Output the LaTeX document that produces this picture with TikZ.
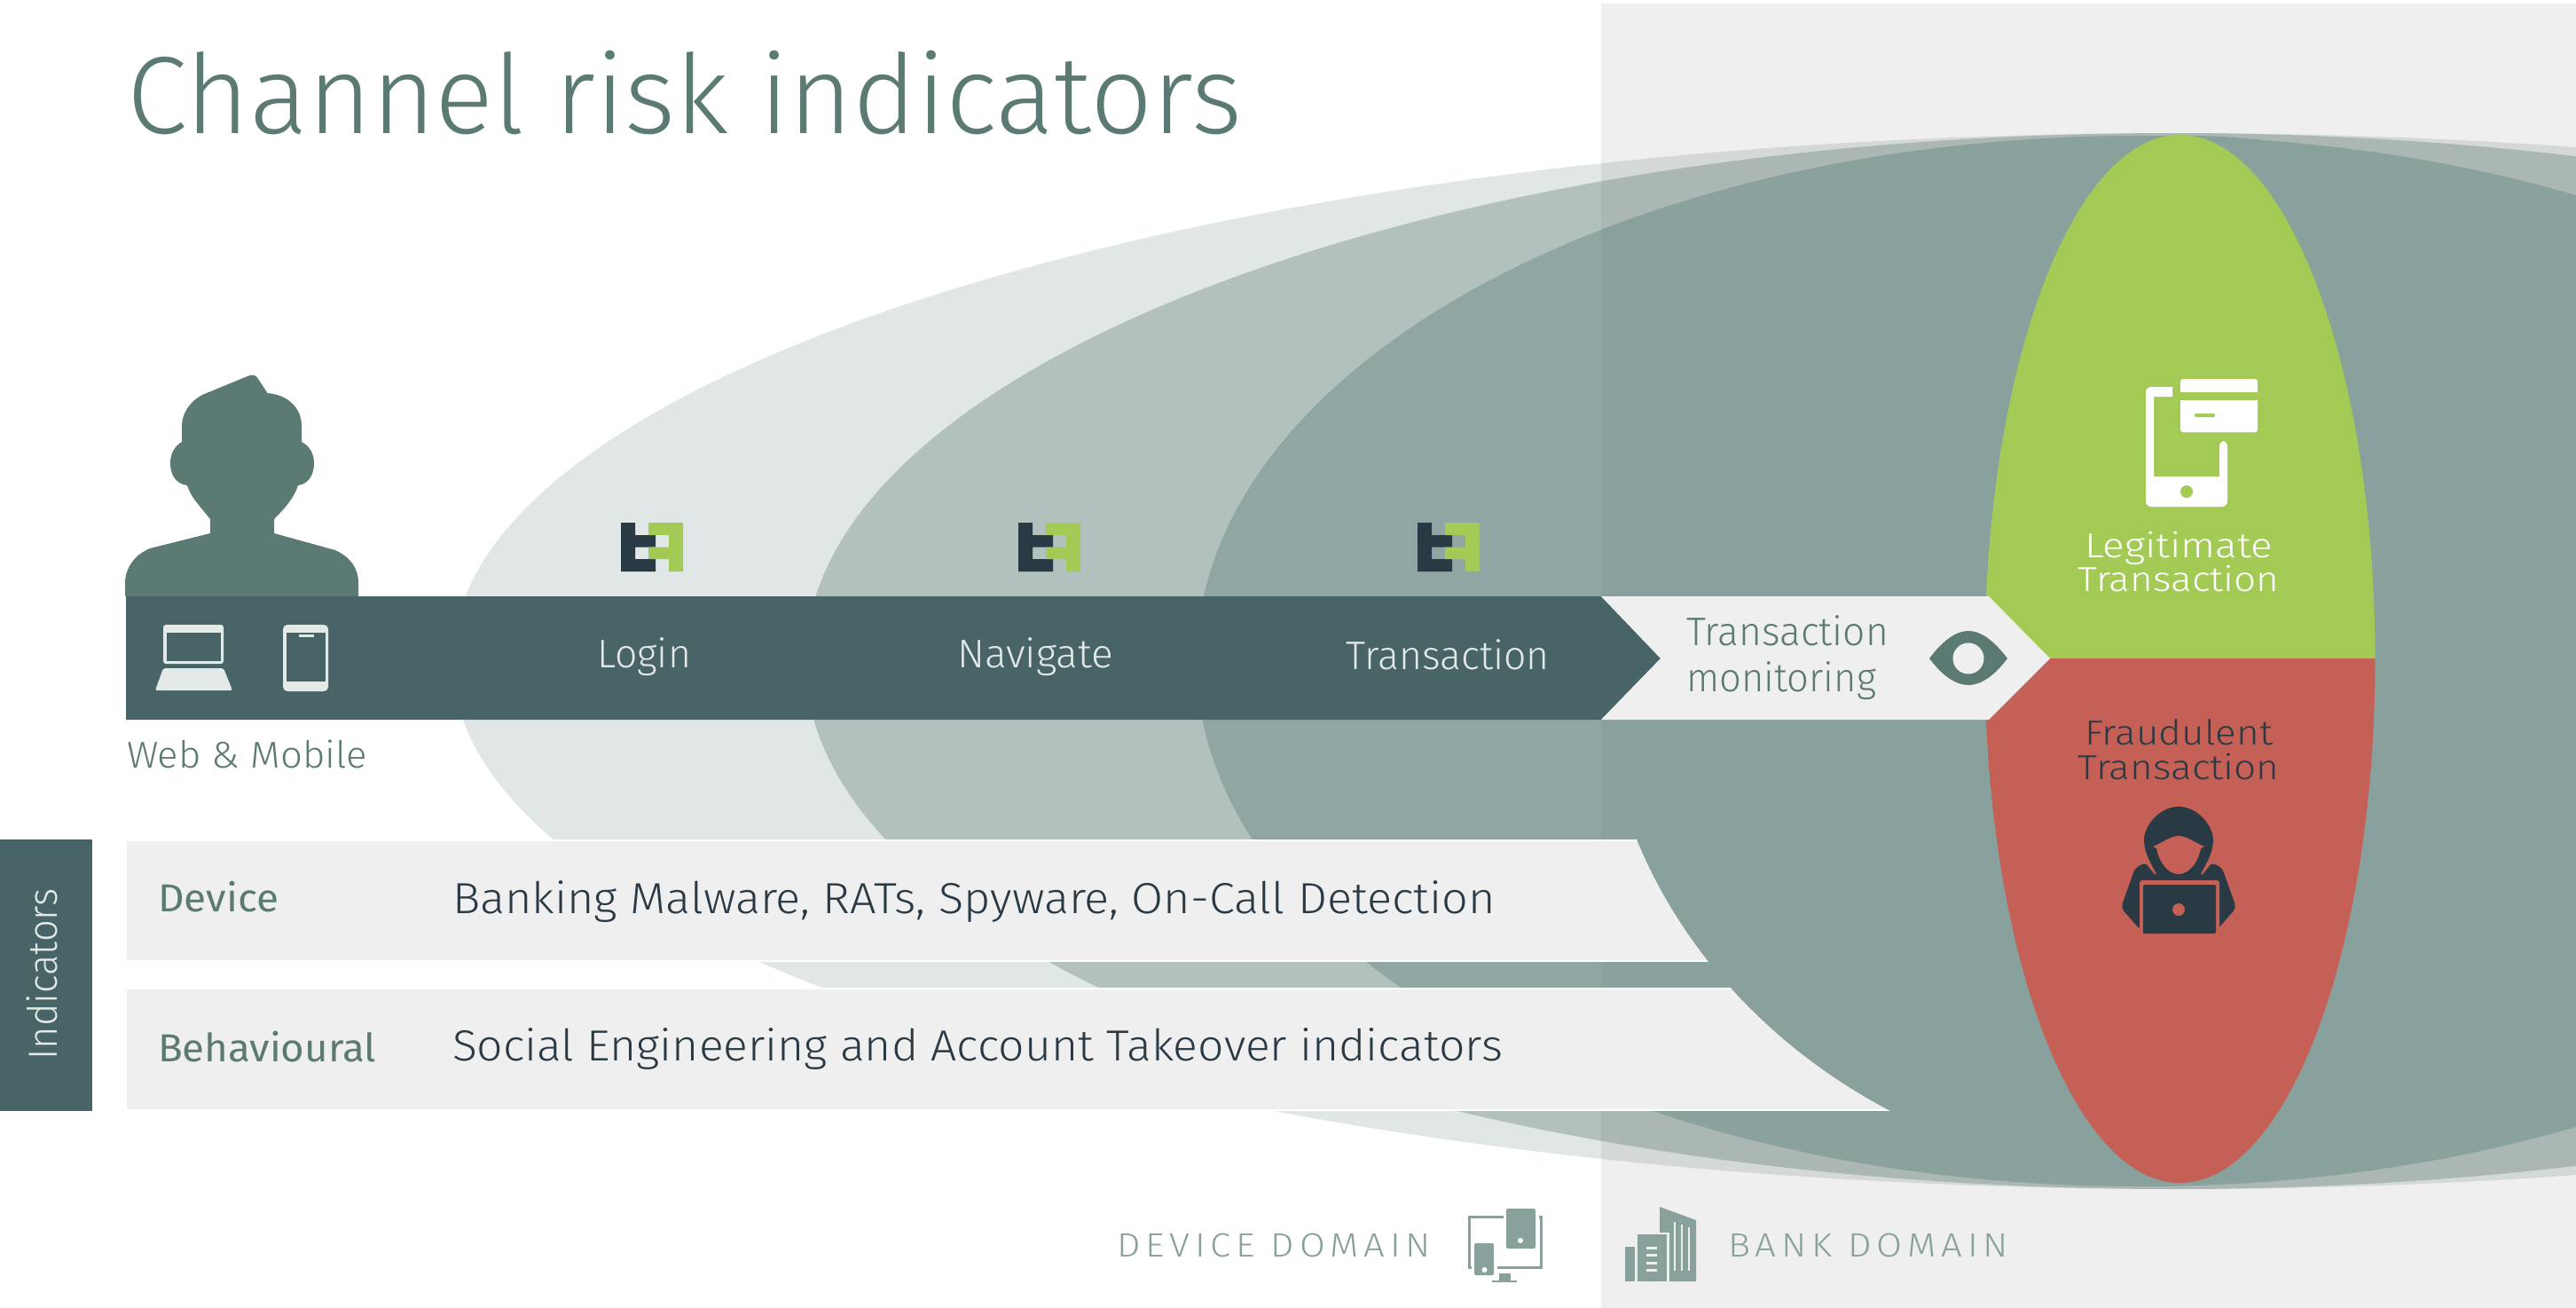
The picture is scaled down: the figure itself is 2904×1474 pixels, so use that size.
\documentclass[tikz,border=0pt]{standalone}
\usepackage{fontspec}
\usepackage{graphicx}
\setmainfont{Fira Sans}
\newfontfamily\lt{Fira Sans Light}
\newfontfamily\ltsp[LetterSpace=14]{Fira Sans Light}
\newfontfamily\rg{Fira Sans}
\definecolor{sage}{HTML}{5C7A74}
\definecolor{barc}{HTML}{486466}
\definecolor{pale}{HTML}{EFEFEF}
\definecolor{ell}{HTML}{5C7A75}
\definecolor{ellthree}{HTML}{5E807A}
\definecolor{ellin}{HTML}{88A19D}
\definecolor{leaf}{HTML}{A4CA56}
\definecolor{brick}{HTML}{C46055}
\definecolor{ink}{HTML}{2A3A45}
\definecolor{ice}{HTML}{E2E9E7}
\newcommand\fw[4]{{#1\fontsize{#3}{#3}\selectfont\resizebox{#2pt}{\height}{#4}}}
\tikzset{
  txt/.style={inner sep=0pt,outer sep=0pt,anchor=base west},
  ctxt/.style={inner sep=0pt,outer sep=0pt,anchor=base},
  rowbar/.style={fill=pale,draw=white,line width=1.5pt},
  logodark/.style={fill=ink},
  logolight/.style={fill=leaf}
}
\newcommand\logoat[2]{%
  \begin{scope}[shift={(#1,#2)}]
    \fill[logodark] (0,0)--(16,0)--(16,14)--(39,14)--(39,27.5)--(16,27.5)--(16,41)--(39,41)--(39,55)--(0,55)--cycle;
    \fill[logolight] (31,0)--(70,0)--(70,55)--(54,55)--(54,41)--(31,41)--(31,27.5)--(54,27.5)--(54,14)--(31,14)--cycle;
  \end{scope}}
\begin{document}
\begin{tikzpicture}[x=1pt,y=-1pt]
\useasboundingbox (0,0) rectangle (2904,1474);
\fill[white] (0,0) rectangle (2904,1474);
\fill[pale] (1805,4) rectangle (2904,1474);
\begin{scope}
\clip (0,0) rectangle (2904,1474);
\fill[ell,fill opacity=.18] (2455,745) ellipse [x radius=1945,y radius=595];
\fill[ell,fill opacity=.35] (2450,745) ellipse [x radius=1542,y radius=595];
\fill[ellthree,fill opacity=.40] (2412,745) ellipse [x radius=1063,y radius=592];
\path[rowbar] (142,947) rectangle (2300,1083);
\path[rowbar] (142,1114) rectangle (2300,1251);
\fill[ellin] (2465,743) ellipse [x radius=660,y radius=590];
\begin{scope}
\clip (2000,0) rectangle (2904,742);
\fill[leaf] (2457.5,742.5) ellipse [x radius=220,y radius=590.5];
\end{scope}
\begin{scope}
\clip (2000,742) rectangle (2904,1474);
\fill[brick] (2457.5,742.5) ellipse [x radius=220,y radius=590.5];
\end{scope}
\end{scope}
% bar and arrow
\fill[barc] (142,672)--(1805,672)--(1872,742)--(1805,811)--(142,811)--cycle;
\fill[pale] (1805,672)--(2242,672)--(2311,742)--(2242,811)--(1805,811)--(1872,742)--cycle;
\fill[barc] (0,946) rectangle (104,1252);
% person
\fill[sage] (141,672)--(141,657) .. controls (141,640) and (152,625) .. (169,618)--(237,601)--(237,585)
 .. controls (225,570) and (215,560) .. (211,547) .. controls (198,545) and (192,535) .. (192,522)
 .. controls (192,510) and (198,502) .. (205,498)--(205,480) .. controls (205,465) and (215,452) .. (228,445)
 --(279,424) .. controls (285,421) and (289,423) .. (291,427)--(301.5,443) .. controls (325,445) and (340,460) .. (340,480)
 --(340,498) .. controls (348,502) and (354,510) .. (354,522) .. controls (354,535) and (348,545) .. (336,547)
 .. controls (332,560) and (322,572) .. (309,585)--(309,601)--(378,620) .. controls (395,628) and (404,640) .. (404,657)--(404,672)--cycle;
% laptop
\fill[ice,rounded corners=3pt] (184,704) rectangle (252,748);
\fill[barc] (188,713) rectangle (249,745);
\fill[ice,rounded corners=2pt] (184,753)--(252,753)--(262,778)--(175,778)--cycle;
% phone
\fill[ice,rounded corners=5pt] (319,704) rectangle (370,779);
\fill[barc] (323,713) rectangle (367,768);
\fill[ice] (337,715) rectangle (354,717.5);
% logos
\logoat{700}{589}
\logoat{1148}{589}
\logoat{1598}{589}
% eye
\fill[sage] (2175,742) .. controls (2190,722) and (2205,711) .. (2219,711) .. controls (2233,711) and (2248,722) .. (2263,742)
 .. controls (2248,762) and (2233,772) .. (2219,772) .. controls (2205,772) and (2190,762) .. (2175,742) -- cycle;
\fill[pale] (2219,742) circle [radius=17.5];
% legit icon
\fill[white,rounded corners=6pt] (2449,436)--(2419,436)--(2419,571)--(2511,571)--(2511,497)--(2502,497)[sharp corners]--(2502,537)--(2428,537)--(2428,447)--(2449,447)--cycle;
\fill[leaf] (2465,554) circle [radius=7];
\fill[white,rounded corners=3pt] (2458,427) rectangle (2545,487);
\fill[leaf] (2458,441.5) rectangle (2545,451);
\fill[leaf,rounded corners=1.5pt] (2474,466) rectangle (2497,470);
% hacker icon
\fill[ink,rounded corners=5pt] (2407,978)--(2391,1023)--(2412,1047)--(2500,1047)--(2521,1023)--(2505,978)--(2493,972)--(2480,985)--(2432,985)--(2419,972)--cycle;
\fill[ink] (2456,909) .. controls (2435,909) and (2417,930) .. (2417,947) .. controls (2417,960) and (2425,975) .. (2433,987)--(2479,987) .. controls (2487,975) and (2495,960) .. (2495,947) .. controls (2495,930) and (2477,909) .. (2456,909)--cycle;
\fill[brick] (2427,954) .. controls (2437,950) and (2447,942) .. (2456,942) .. controls (2465,942) and (2475,950) .. (2485,954)--(2481,956) .. controls (2478,972) and (2468,985) .. (2456,985) .. controls (2444,985) and (2434,972) .. (2431,956)--cycle;
\draw[brick,line width=2pt] (2418,970)--(2430,985) (2494,970)--(2482,985);
\fill[brick,rounded corners=3pt] (2412,992) rectangle (2502,1056);
\fill[ink,rounded corners=2pt] (2416,997) rectangle (2498,1052);
\fill[brick] (2456,1025) circle [radius=7];
% device domain icon
\draw[ellin,line width=3pt] (1656.5,1371) rectangle (1737,1428);
\fill[white] (1695,1358) rectangle (1735,1411);
\fill[white] (1659,1398) rectangle (1688,1440);
\fill[ellin,rounded corners=2pt] (1698,1362) rectangle (1731,1407);
\fill[white] (1714,1398) circle [radius=3];
\fill[ellin,rounded corners=2pt] (1662,1401) rectangle (1684,1437);
\fill[white] (1673.5,1431) circle [radius=3];
\fill[ellin] (1690,1435) rectangle (1703,1443);
\fill[ellin] (1682,1443) rectangle (1710,1445);
% bank domain icon
\fill[ellin] (1871,1360)--(1912,1375)--(1912,1444)--(1871,1444)--cycle;
\fill[pale] (1887,1377) rectangle (1889,1432);
\fill[pale] (1895,1380) rectangle (1897,1432);
\fill[pale] (1903,1383) rectangle (1905,1432);
\fill[pale] (1843,1389) rectangle (1882,1446);
\fill[ellin] (1846,1391) rectangle (1879,1444);
\fill[ellin] (1832,1405) rectangle (1843,1444);
\foreach \wy in {1405,1413,1422,1430}{\fill[pale] (1856,\wy) rectangle (1868,\wy+2.5);}
% texts
\node[txt,text=sage] (title) at (143,151) {\fw{\lt}{1257}{124}{Channel risk indicators}};
\node[ctxt,text=ice] (login) at (726,752) {\fw{\lt}{106}{45}{Login}};
\node[ctxt,text=ice] (nav) at (1167,752) {\fw{\lt}{176}{45}{Navigate}};
\node[ctxt,text=ice] (trans) at (1632,754) {\fw{\lt}{229}{45}{Transaction}};
\node[txt,text=sage] (web) at (143,865) {\fw{\lt}{271}{42}{Web \& Mobile}};
\node[txt,text=sage] (tm1) at (1901,727) {\fw{\lt}{228}{45}{Transaction}};
\node[txt,text=sage] (tm2) at (1901,779) {\fw{\lt}{214}{45}{monitoring}};
\node[ctxt,text=white] (leg1) at (2456,628) {\fw{\lt}{212}{39}{Legitimate}};
\node[ctxt,text=white] (leg2) at (2456,666) {\fw{\lt}{227}{39}{Transaction}};
\node[ctxt,text=ink] (fr1) at (2456,839) {\fw{\lt}{212}{39}{Fraudulent}};
\node[ctxt,text=ink] (fr2) at (2456,878) {\fw{\lt}{227}{39}{Transaction}};
\node[ctxt,text=ice,rotate=90] (ind) at (64,1098) {\fw{\lt}{193}{46}{Indicators}};
\node[txt,text=sage] (dev) at (178,1027) {\fw{\rg}{136}{44}{Device}};
\node[txt,text=sage] (beh) at (178,1196) {\fw{\rg}{246}{44}{Behavioural}};
\node[txt,text=ink] (devt) at (510,1029) {\fw{\lt}{1176}{49}{Banking Malware, RATs, Spyware, On-Call Detection}};
\node[txt,text=ink] (beht) at (510,1195) {\fw{\lt}{1184}{49}{Social Engineering and Account Takeover indicators}};
\node[txt,text=ellin] (dd) at (1259,1416) {\fw{\ltsp}{354}{38}{DEVICE DOMAIN}};
\node[txt,text=ellin] (bd) at (1948,1416) {\fw{\ltsp}{316}{38}{BANK DOMAIN}};
\end{tikzpicture}
\end{document}
